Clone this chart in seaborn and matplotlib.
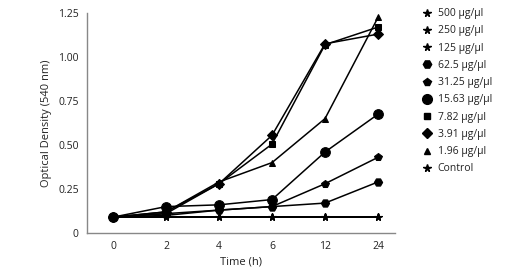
import matplotlib
matplotlib.use('Agg')
import matplotlib.pyplot as plt
from matplotlib.lines import Line2D
import seaborn as sns
import pandas as pd

sns.set_style('white')
plt.rcParams['font.family'] = ['Open Sans', 'DejaVu Sans']

# 시간(h) - 범주형 x축
times = ['0', '2', '4', '6', '12', '24']

# 농도별 흡광도 (540 nm)
labels = ['500 μg/μl', '250 μg/μl', '125 μg/μl', '62.5 μg/μl', '31.25 μg/μl',
          '15.63 μg/μl', '7.82 μg/μl', '3.91 μg/μl', '1.96 μg/μl', 'Control']
od_500 = [0.09, 0.09, 0.09, 0.09, 0.09, 0.09]
od_250 = [0.09, 0.09, 0.09, 0.09, 0.09, 0.09]
od_125 = [0.09, 0.09, 0.09, 0.09, 0.09, 0.09]
od_62_5 = [0.09, 0.11, 0.13, 0.15, 0.17, 0.29]
od_31_25 = [0.09, 0.10, 0.13, 0.15, 0.28, 0.43]
od_15_63 = [0.09, 0.15, 0.16, 0.19, 0.46, 0.675]
od_7_82 = [0.09, 0.11, 0.28, 0.505, 1.07, 1.17]
od_3_91 = [0.09, 0.12, 0.28, 0.555, 1.075, 1.13]
od_1_96 = [0.09, 0.12, 0.29, 0.40, 0.65, 1.225]
od_control = [0.09, 0.09, 0.09, 0.09, 0.09, 0.09]

series = [od_500, od_250, od_125, od_62_5, od_31_25,
          od_15_63, od_7_82, od_3_91, od_1_96, od_control]
markers = ['*', '*', '*', 'H', 'p', 'o', 's', 'D', '^', '*']
sizes = [5.5, 5.5, 5.5, 6, 6, 7, 5, 5, 5, 5.5]

fig = plt.figure(figsize=(5.28, 2.79), dpi=100)
ax = fig.add_axes([87/528, 46/279, (395-87)/528, (233-13)/279])

for lab, vals, m, s in zip(labels, series, markers, sizes):
    df = pd.DataFrame({'pos': range(len(times)), 'od': vals})
    sns.lineplot(data=df, x='pos', y='od', ax=ax, color='black', linewidth=1.1,
                 marker=m, markersize=s, markeredgecolor='black', legend=False)

ax.set_xticks(range(len(times)))
ax.set_xticklabels(times)
ax.set_xlim(-0.49, 5.32)
ax.set_ylim(0, 1.25)
ax.set_yticks([0, 0.25, 0.5, 0.75, 1.0, 1.25])
ax.set_yticklabels(['0', '0.25', '0.50', '0.75', '1.00', '1.25'])
ax.tick_params(labelsize=7.5, length=0, pad=6, colors='#222222')
ax.set_xlabel('Time (h)', fontsize=8, labelpad=3, color='#222222')
ax.set_ylabel('Optical Density (540 nm)', fontsize=8, labelpad=4, color='#222222')
sns.despine(ax=ax)
for sp in ['left', 'bottom']:
    ax.spines[sp].set_color('#888888')
    ax.spines[sp].set_linewidth(1.0)

handles = [Line2D([], [], color='black', linestyle='none', marker=m, markersize=s)
           for m, s in zip(markers, sizes)]
fig.legend(handles, labels, loc='upper left', bbox_to_anchor=(418/528, 1 - 4/279),
           frameon=False, fontsize=7.5, handlelength=1.0, handletextpad=0.5,
           labelspacing=0.6, borderaxespad=0, labelcolor='#222222')

fig.savefig('out.png', dpi=100)
